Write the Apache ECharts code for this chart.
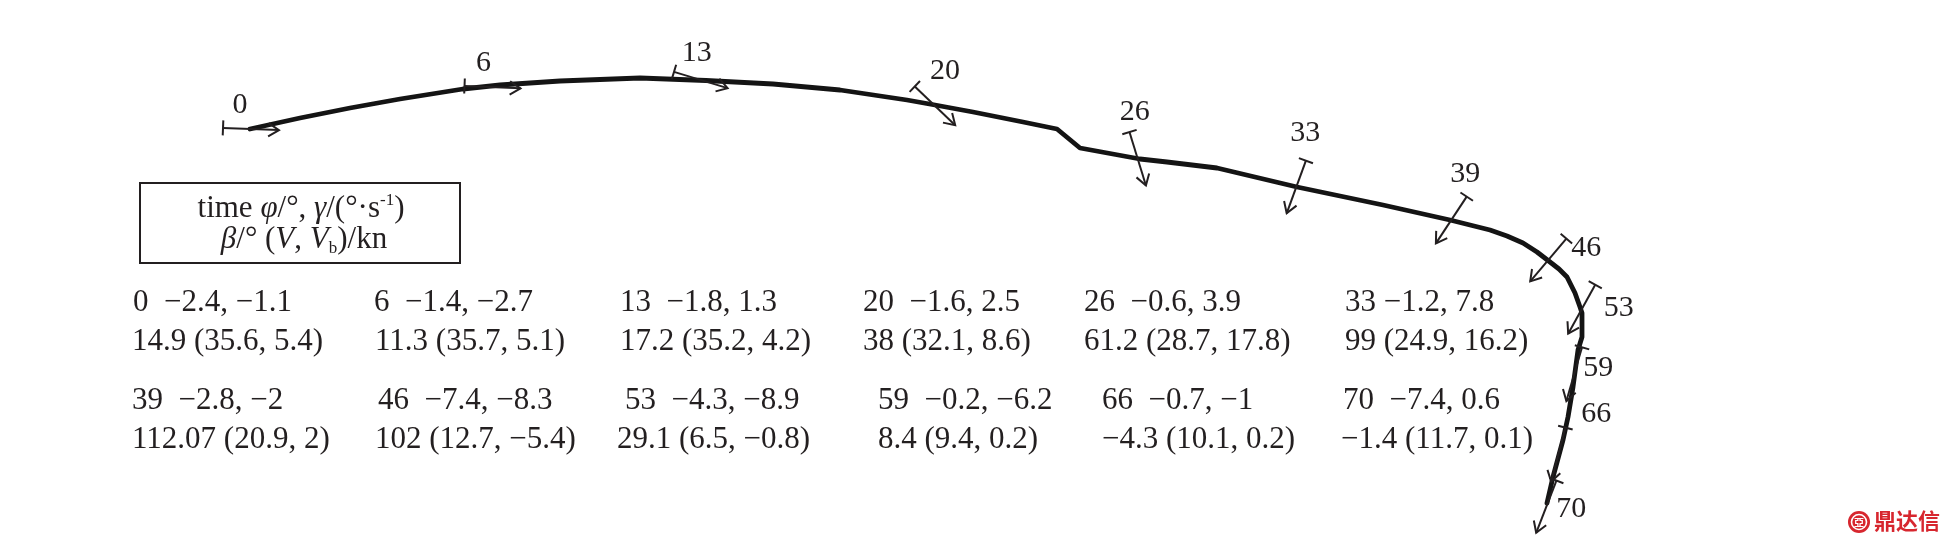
<!DOCTYPE html>
<html>
<head>
<meta charset="utf-8">
<script src="https://cdn.jsdelivr.net/npm/echarts@6/dist/echarts.min.js"></script>
<style>
html,body{margin:0;padding:0;background:#ffffff;}
#c{width:1950px;height:547px;}
</style>
</head>
<body>
<div id="c"></div>
<script>
// ---- DATA ----
// Ship track (plan position, plot units; y grows downward)
const trackX = [250, 300, 350, 400, 463, 500, 560, 640, 706, 773, 840, 907, 935, 973, 1023, 1057, 1080, 1140, 1167, 1217, 1297, 1383, 1450, 1490, 1507, 1523, 1537, 1550, 1559, 1567, 1575, 1580, 1582, 1582, 1578, 1573, 1568, 1563, 1553, 1547];
const trackY = [129, 118, 108, 99, 89, 85, 81, 78, 80.5, 84, 90, 100, 105, 112, 122, 129, 148, 159, 162, 168, 187, 205, 220, 230, 236, 243, 252, 262, 269, 277, 293, 307, 313, 337, 350, 387, 417, 440, 477, 503];

// Time stamps (s) and ship position / heading at each stamp
const times   = [0, 6, 13, 20, 26, 33, 39, 46, 53, 59, 66, 70];
const shipX   = [251, 492.5, 700.8, 935, 1137.7, 1296.3, 1451.3, 1548.3, 1581.7, 1574.2, 1558.3, 1546.3];
const shipY   = [129, 87.2, 80, 105.8, 158.8, 187, 220, 260, 309.2, 374.2, 454.7, 506.7];
const heading = [92.3, 92.3, 106.8, 133.8, 162.9, 200.1, 213.4, 220.2, 208.9, 196.2, 194.7, 201.2];

// Motion parameters at each stamp
const phi    = [-2.4, -1.4, -1.8, -1.6, -0.6, -1.2, -2.8, -7.4, -4.3, -0.2, -0.7, -7.4];
const gamma  = [-1.1, -2.7, 1.3, 2.5, 3.9, 7.8, -2, -8.3, -8.9, -6.2, -1, 0.6];
const beta   = [14.9, 11.3, 17.2, 38, 61.2, 99, 112.07, 102, 29.1, 8.4, -4.3, -1.4];
const speedV = [35.6, 35.7, 35.2, 32.1, 28.7, 24.9, 20.9, 12.7, 6.5, 9.4, 10.1, 11.7];
const speedVb= [5.4, 5.1, 4.2, 8.6, 17.8, 16.2, 2, -5.4, -0.8, 0.2, 0.2, 0.1];

// ---- LAYOUT (pixels) ----
const labelDX = [-11, -9, -4, 10, -3, 9, 14, 38, 37, 24, 38, 25];
const labelDY = [-24, -24, -27, -35, -47, -54, -46, -12, -1, -6, -41, 2];
const line1X = [133, 374, 620, 863, 1084, 1345, 132, 378, 625, 878, 1102, 1343];
const line2X = [132, 375, 620, 863, 1084, 1345, 132, 375, 617, 878, 1102, 1341];
const rowY1 = [303, 401];
const rowY2 = [342, 440];
const timeGap = ['  ', '  ', '  ', '  ', '  ', ' ', '  ', '  ', '  ', '  ', '  ', '  '];

const FONT = '"Liberation Serif", "DejaVu Serif", serif';
const INK = '#231f20';

function fmt(v){ return String(v).replace('-', '\u2212'); }

const chart = echarts.init(document.getElementById('c'), null, {renderer: 'canvas'});

const graphics = [];
// legend box
graphics.push({
  type: 'rect', shape: {x: 140, y: 183, width: 320, height: 80},
  style: {fill: 'none', stroke: INK, lineWidth: 2}, z: 10
});
const richBase = {
  r:   {fontFamily: FONT, fontSize: 31, lineHeight: 34, fill: INK},
  i:   {fontFamily: FONT, fontSize: 31, lineHeight: 34, fill: INK, fontStyle: 'italic'},
  sup: {fontFamily: FONT, fontSize: 17, lineHeight: 20, fill: INK, verticalAlign: 'top'},
  sub: {fontFamily: FONT, fontSize: 17, lineHeight: 18, fill: INK, verticalAlign: 'bottom'}
};
graphics.push({
  type: 'text', x: 301, y: 209, z: 10,
  style: {text: '{r|time }{i|\u03c6}{r|/\u00b0, }{i|\u03b3}{r|/(\u00b0\u00b7s}{sup|-1}{r|)}',
          rich: richBase, align: 'center', verticalAlign: 'middle'}
});
graphics.push({
  type: 'text', x: 304, y: 240, z: 10,
  style: {text: '{i|\u03b2}{r|/\u00b0 (}{i|V}{r|, }{i|V}{sub|b}{r|)/kn}',
          rich: richBase, align: 'center', verticalAlign: 'middle'}
});
// parameter table
times.forEach(function(t, k){
  const row = k < 6 ? 0 : 1;
  graphics.push({
    type: 'text', x: line1X[k], y: rowY1[row], z: 10,
    style: {text: t + timeGap[k] + fmt(phi[k]) + ', ' + fmt(gamma[k]),
            font: '31px ' + FONT, fill: INK, align: 'left', verticalAlign: 'middle'}
  });
  graphics.push({
    type: 'text', x: line2X[k], y: rowY2[row], z: 10,
    style: {text: fmt(beta[k]) + ' (' + fmt(speedV[k]) + ', ' + fmt(speedVb[k]) + ')',
            font: '31px ' + FONT, fill: INK, align: 'left', verticalAlign: 'middle'}
  });
});
// watermark logo
graphics.push({
  type: 'circle', shape: {cx: 1859, cy: 522, r: 11},
  style: {fill: '#d7262e'}, z: 10
});
graphics.push({
  type: 'circle', shape: {cx: 1859, cy: 522, r: 7.5},
  style: {fill: 'none', stroke: '#ffffff', lineWidth: 1.6}, z: 11
});
graphics.push({
  type: 'text', x: 1859, y: 522, z: 12,
  style: {text: '\u4e9e', font: 'bold 10px "Noto Sans CJK SC"', fill: '#ffffff', align: 'center', verticalAlign: 'middle'}
});
graphics.push({
  type: 'text', x: 1874, y: 521, z: 10,
  style: {text: '\u9f0e\u8fbe\u4fe1', font: 'bold 22px "Noto Sans CJK SC"', fill: '#d7262e', align: 'left', verticalAlign: 'middle'}
});

const markerData = times.map(function(t, k){ return [shipX[k], shipY[k], heading[k], t, k]; });

function renderMarker(params, api){
  const c = api.coord([api.value(0), api.value(1)]);
  const h = api.value(2) * Math.PI / 180;
  const k = api.value(4);
  const ux = Math.sin(h), uy = -Math.cos(h);
  const px = -uy, py = ux;
  const L = 28, cb = 7.5, ah = 12.5, aa = 32 * Math.PI / 180;
  const sx = c[0] - ux * L, sy = c[1] - uy * L;
  const bx = c[0] + ux * L, by = c[1] + uy * L;
  const back = ah * Math.cos(aa), side = ah * Math.sin(aa);
  const st = {stroke: INK, lineWidth: 2, fill: 'none', lineCap: 'butt'};
  return {
    type: 'group',
    children: [
      {type: 'line', shape: {x1: sx, y1: sy, x2: bx, y2: by}, style: st},
      {type: 'line', shape: {x1: sx - px * cb, y1: sy - py * cb, x2: sx + px * cb, y2: sy + py * cb}, style: st},
      {type: 'polyline', shape: {points: [
        [bx - ux * back + px * side, by - uy * back + py * side],
        [bx, by],
        [bx - ux * back - px * side, by - uy * back - py * side]
      ]}, style: st},
      {type: 'text', x: c[0] + labelDX[k], y: c[1] + labelDY[k],
       style: {text: String(api.value(3)), font: '30px ' + FONT, fill: INK, align: 'center', verticalAlign: 'middle'}}
    ]
  };
}

chart.setOption({
  animation: false,
  backgroundColor: '#ffffff',
  grid: {left: 0, right: 0, top: 0, bottom: 0, containLabel: false},
  xAxis: {type: 'value', min: 0, max: 1950, show: false},
  yAxis: {type: 'value', min: 0, max: 547, inverse: true, show: false},
  graphic: graphics,
  series: [
    {
      type: 'line',
      data: trackX.map(function(x, i){ return [x, trackY[i]]; }),
      showSymbol: false, symbol: 'none', smooth: false,
      lineStyle: {color: '#141414', width: 4.8, join: 'round', cap: 'round'},
      z: 3, silent: true
    },
    {
      type: 'custom',
      data: markerData,
      renderItem: renderMarker,
      z: 4, silent: true, clip: false
    }
  ]
});
</script>
</body>
</html>
